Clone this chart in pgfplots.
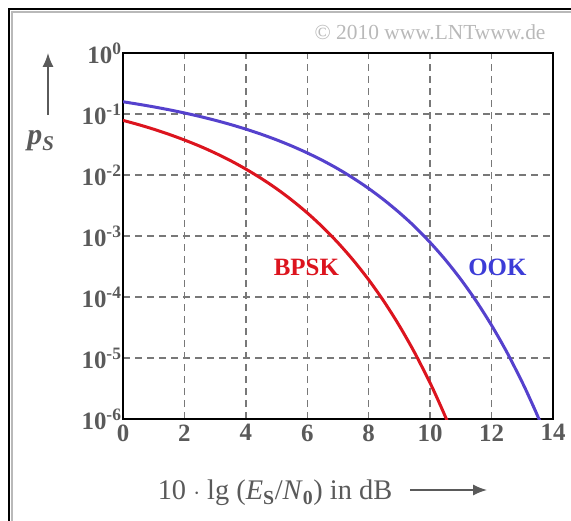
\documentclass[border=0pt]{standalone}
\usepackage{fontspec}
\setmainfont{Liberation Serif}
\usepackage{pgfplots}
\pgfplotsset{compat=1.18}
\usetikzlibrary{arrows.meta}
\definecolor{bpsk}{RGB}{220,20,30}
\definecolor{ook}{RGB}{85,65,205}
\definecolor{ooktxt}{RGB}{60,60,215}
\definecolor{gridgray}{RGB}{120,120,120}
\definecolor{labgray}{RGB}{90,90,90}
\definecolor{copygray}{RGB}{185,185,185}

\pgfplotstableread{
x y
0 0.0786
0.5 0.0671
1 0.0563
1.5 0.0464
2 0.0375
2.5 0.0297
3 0.0229
3.5 0.0172
4 0.0125
4.5 0.00879
5 0.00596
5.5 0.00386
6 0.00239
6.5 0.00140
7 0.000773
7.5 0.000399
8 0.000191
8.5 8.4e-5
9 3.36e-5
9.5 1.21e-5
10 3.88e-6
10.25 2.08e-6
10.5 1.08e-6
10.75 5.4e-7
}\bpsktable

\pgfplotstableread{
x y
0 0.1587
0.5 0.1447
1 0.1309
1.5 0.1173
2 0.1040
2.5 0.0912
3 0.0789
3.5 0.0673
4 0.0565
4.5 0.0466
5 0.0377
5.5 0.0298
6 0.0230
6.5 0.0173
7 0.0126
7.5 0.00885
8 0.00600
8.5 0.00389
9 0.00241
9.5 0.00142
10 0.000783
10.5 0.000405
11 0.000194
11.5 8.56e-5
12 3.43e-5
12.5 1.24e-5
13 3.98e-6
13.25 2.14e-6
13.5 1.12e-6
13.75 5.6e-7
}\ooktable

\begin{document}
\begin{tikzpicture}[x=1bp,y=1bp]
\path[use as bounding box] (-123,-102) rectangle (448,419);
% frame (left and top edges only)
\draw[gray!55, line width=1.5bp] (-111,-102) -- (-111,407) -- (448,407);
\draw[black, line width=2.5bp] (-114,-102) -- (-114,410) -- (448,410);

\begin{axis}[
    at={(0,0)}, anchor=south west,
    scale only axis,
    width=430bp, height=366bp,
    ymode=log, log basis y=10,
    xmin=0, xmax=14, ymin=1e-6, ymax=1,
    xtick={0,2,...,14},
    xticklabels={0,2,4,6,8,10,12,14},
    ytick={1e-6,1e-5,1e-4,1e-3,1e-2,1e-1,1},
    yticklabels={10\textsuperscript{-6},10\textsuperscript{-5},10\textsuperscript{-4},10\textsuperscript{-3},10\textsuperscript{-2},10\textsuperscript{-1},10\textsuperscript{0}},
    grid=major,
    major grid style={gridgray, line width=1.4bp, dash pattern=on 7bp off 5bp},
    axis line style={line width=2bp},
    major tick length=0pt,
    tick label style={font=\fontsize{25}{27}\selectfont\bfseries, text=labgray},
    yticklabel style={xshift=2bp},
    xticklabel style={yshift=-2bp},
]
\addplot[bpsk, line width=3bp, smooth] table[x=x, y=y] {\bpsktable};
\addplot[ook, line width=3bp, smooth] table[x=x, y=y] {\ooktable};
\node[text=bpsk, font=\fontsize{25}{27}\selectfont\bfseries] at (axis cs:5.97,3.1e-4) {BPSK};
\node[text=ooktxt, font=\fontsize{25}{27}\selectfont\bfseries] at (axis cs:12.19,3.1e-4) {OOK};
\end{axis}

% copyright
\node[text=copygray, font=\fontsize{21.5}{23}\selectfont] at (307,387) {© 2010 www.LNTwww.de};
% x label
\node[text=labgray, font=\fontsize{28.5}{30}\selectfont] at (152,-74)
  {10 $\cdot$ lg (\textit{E}\textsubscript{\textbf{S}}/\textit{N}\textsubscript{\textbf{0}}) in dB};
\draw[labgray, line width=1.5bp, -{Latex[length=14bp,width=11bp]}] (287,-71) -- (364,-71);
% y label
\draw[labgray, line width=1.5bp, -{Latex[length=14bp,width=11bp]}] (-75,304) -- (-75,366);
\node[text=labgray, font=\fontsize{30}{32}\selectfont\bfseries\itshape] at (-82,278)
  {p\textsubscript{S}};
\end{tikzpicture}
\end{document}
